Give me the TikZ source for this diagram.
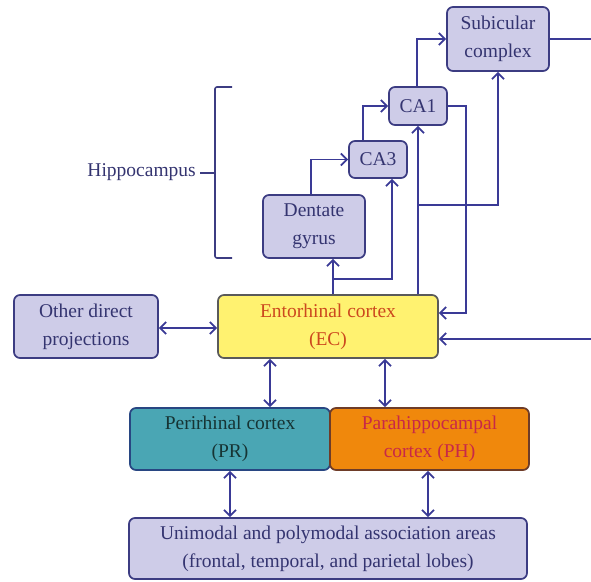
\documentclass[tikz,border=0pt]{standalone}
\usepackage{fontspec}
\setmainfont{Liberation Serif}
\usetikzlibrary{arrows.meta}

\definecolor{lav}{RGB}{206,204,232}
\definecolor{lavline}{RGB}{60,60,130}
\definecolor{inkblue}{RGB}{52,52,112}
\definecolor{wire}{RGB}{58,58,150}
\definecolor{ecfill}{RGB}{255,242,112}
\definecolor{ecline}{RGB}{90,90,90}
\definecolor{ectext}{RGB}{204,72,30}
\definecolor{prfill}{RGB}{74,166,180}
\definecolor{prline}{RGB}{40,70,130}
\definecolor{prtext}{RGB}{22,52,52}
\definecolor{phfill}{RGB}{240,136,12}
\definecolor{phline}{RGB}{110,60,40}
\definecolor{phtext}{RGB}{200,40,72}

\tikzset{
  box/.style={draw=lavline, fill=lav, line width=1.7pt, rounded corners=6pt,
    inner sep=0pt, align=center, text=inkblue,
    font=\fontsize{19.5}{28}\selectfont},
  tip/.tip={Straight Barb[length=6pt,width=12pt]},
  arr/.style={draw=wire, line width=1.8pt, -tip},
  darr/.style={draw=wire, line width=1.8pt, tip-tip},
  wireline/.style={draw=wire, line width=1.8pt},
}

\begin{document}
\begin{tikzpicture}[x=1pt, y=-1pt]
\useasboundingbox (0,0) rectangle (591,581);

% boxes
\node[box, minimum width=102pt, minimum height=64pt] (sub) at (498,39) {Subicular\\complex};
\node[box, minimum width=58pt, minimum height=38pt] (ca1) at (418,106) {CA1};
\node[box, minimum width=58pt, minimum height=37pt] (ca3) at (378,159.5) {CA3};
\node[box, minimum width=102pt, minimum height=63pt] (dg) at (314,226.5) {Dentate\\gyrus};
\node[box, minimum width=144pt, minimum height=63pt] (other) at (86,326.5) {Other direct\\projections};
\node[box, draw=ecline, fill=ecfill, text=ectext, minimum width=220pt, minimum height=63pt] (ec) at (328,326.5) {Entorhinal cortex\\(EC)};
\node[box, draw=prline, fill=prfill, text=prtext, minimum width=200pt, minimum height=62pt] (pr) at (230,439) {Perirhinal cortex\\(PR)};
\node[box, draw=phline, fill=phfill, text=phtext, minimum width=199pt, minimum height=62pt] (ph) at (429.5,439) {Parahippocampal\\cortex (PH)};
\node[box, minimum width=398pt, minimum height=61pt] (uni) at (328,548.5) {Unimodal and polymodal association areas\\(frontal, temporal, and parietal lobes)};

% hippocampus bracket and label
\coordinate (brtop) at (232,87);
\coordinate (brbot) at (232,258);
\coordinate (brtick) at (200,173);
\draw[wireline, draw=lavline, line width=1.6pt, rounded corners=2pt]
  (brtop) -- (215,87) -- (215,258) -- (brbot);
\draw[wireline, draw=lavline, line width=1.6pt] (215,173) -- (brtick);
\node[anchor=east, text=inkblue, font=\fontsize{19.5}{28}\selectfont, inner sep=0pt] (hip) at (196,172) {Hippocampus};

% positions of wires
\coordinate (xa) at (333,0);
\coordinate (xb) at (392,0);
\coordinate (xc) at (311,0);
\coordinate (xd) at (363,0);
\coordinate (xe) at (417,0);
\coordinate (xr) at (466,0);
\coordinate (xl) at (270,0);
\coordinate (xm) at (385,0);
\coordinate (xp) at (428,0);
\coordinate (yo) at (0,328);
\coordinate (edgeA) at (591,39);
\coordinate (edgeB) at (591,339);

% trisynaptic chain
\draw[arr] (dg.north -| xc) |- (ca3.west);
\draw[arr] (ca3.north -| xd) |- (ca1.west);
\draw[arr] (ca1.north -| xe) |- (sub.west);
\draw[wireline] (sub.east) -- (edgeA);

% entorhinal inputs to hippocampus
\draw[arr] (ec.north -| xa) -- (dg.south -| xa);
\draw[arr] (xa |- 0,279) -| (ca3.south -| xb);
\draw[arr] (ec.north -| ca1.south) -- (ca1.south);
\draw[arr] (ca1.south |- 0,205) -| (sub.south);

% hippocampal outputs back to EC
\draw[arr] (ca1.east) -| (xr |- 0,313) -- (ec.east |- 0,313);
\draw[arr] (edgeB) -- (ec.east |- edgeB);

% cortical connections
\draw[darr] (other.east |- yo) -- (ec.west |- yo);
\draw[darr] (ec.south -| xl) -- (pr.north -| xl);
\draw[darr] (ec.south -| xm) -- (ph.north -| xm);
\draw[darr] (pr.south) -- (uni.north -| pr.south);
\draw[darr] (ph.south -| xp) -- (uni.north -| xp);
\end{tikzpicture}
\end{document}
